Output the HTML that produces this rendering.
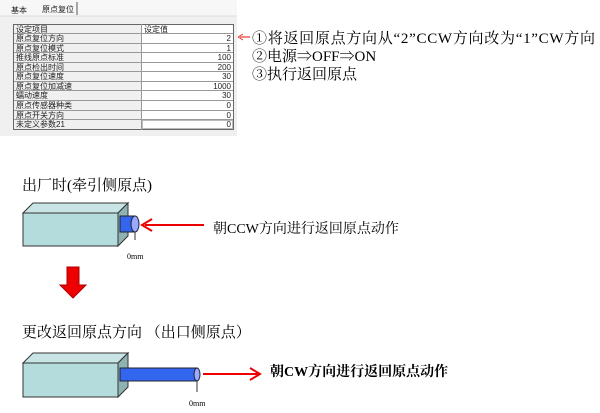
<!DOCTYPE html>
<html><head><meta charset="utf-8"><style>
body{margin:0;background:#fff;width:600px;height:408px;overflow:hidden}
svg text{font-family:"Liberation Serif","Noto Serif CJK SC",serif}
.t{font-family:"Liberation Sans","Noto Sans CJK SC",sans-serif;font-size:8px;fill:#222}
</style></head><body>
<svg width="600" height="408" xmlns="http://www.w3.org/2000/svg">
<rect x="0" y="0" width="237" height="136" fill="#f0f0f0"/>
<rect x="0" y="0" width="237" height="16" fill="#f7f7f7"/>
<text x="11" y="13" class="t" font-size="9">基本</text>
<text x="42" y="12" class="t" font-size="9">原点复位</text>
<line x1="77" y1="2" x2="77" y2="15" stroke="#555"/>
<line x1="0" y1="16" x2="237" y2="16" stroke="#ddd"/>
<rect x="13.5" y="24.5" width="220" height="105" fill="#fff" stroke="#666"/>
<rect x="14" y="25" width="127" height="104" fill="#f0f0f0"/>
<g stroke="#999" stroke-width="1">
<line x1="141.5" y1="24" x2="141.5" y2="130"/>
<line x1="14" y1="33.5" x2="233" y2="33.5"/>
<line x1="14" y1="43.5" x2="233" y2="43.5"/>
<line x1="14" y1="52.5" x2="233" y2="52.5"/>
<line x1="14" y1="62.5" x2="233" y2="62.5"/>
<line x1="14" y1="71.5" x2="233" y2="71.5"/>
<line x1="14" y1="81.5" x2="233" y2="81.5"/>
<line x1="14" y1="90.5" x2="233" y2="90.5"/>
<line x1="14" y1="100.5" x2="233" y2="100.5"/>
<line x1="14" y1="110.5" x2="233" y2="110.5"/>
<line x1="14" y1="119.5" x2="233" y2="119.5"/>
</g>
<rect x="142.5" y="120.5" width="90" height="8" fill="none" stroke="#777" stroke-dasharray="1,1"/>
<g class="t">
<text x="16" y="32" class="t">设定项目</text><text x="144" y="32" class="t">设定值</text>
<text x="16" y="41" class="t">原点复位方向</text>
<text x="16" y="51" class="t">原点复位模式</text>
<text x="16" y="60" class="t">推线原点标准</text>
<text x="16" y="70" class="t">原点检出时间</text>
<text x="16" y="79" class="t">原点复位速度</text>
<text x="16" y="89" class="t">原点复位加减速</text>
<text x="16" y="98" class="t">蠕动速度</text>
<text x="16" y="108" class="t">原点传感器种类</text>
<text x="16" y="118" class="t">原点开关方向</text>
<text x="16" y="127" class="t">未定义参数21</text>
</g>
<g class="t" text-anchor="end">
<text x="231" y="41" class="t">2</text><text x="231" y="51" class="t">1</text>
<text x="231" y="60" class="t">100</text><text x="231" y="70" class="t">200</text>
<text x="231" y="79" class="t">30</text><text x="231" y="89" class="t">1000</text>
<text x="231" y="98" class="t">30</text><text x="231" y="108" class="t">0</text>
<text x="231" y="118" class="t">0</text><text x="231" y="127" class="t">0</text>
</g>
<line x1="250" y1="37" x2="240" y2="37" stroke="#e33" stroke-width="1.2"/>
<path d="M238 37 L243 34 M238 37 L243 40" stroke="#e33" fill="none"/>
<g font-size="15" fill="#000">
<text x="252" y="43" textLength="343" lengthAdjust="spacing">①将返回原点方向从“2”CCW方向改为“1”CW方向</text>
<text x="252" y="61">②电源⇒OFF⇒ON</text>
<text x="252" y="79">③执行返回原点</text>
</g>
<text x="22" y="190" font-size="15" font-family="Liberation Sans,Noto Sans CJK SC,sans-serif">出厂时(牵引侧原点)</text>
<!-- box 1 -->
<polygon points="23,213 33,203 128,203 118,213" fill="#c8e4e4" stroke="#333"/>
<polygon points="118,213 128,203 128,236 118,246" fill="#8fb3b3" stroke="#333"/>
<rect x="23" y="213" width="95" height="33" fill="#b5dcdc" stroke="#333"/>
<rect x="120" y="216" width="15" height="16" fill="#3366ee" stroke="#223"/>
<ellipse cx="135" cy="224" rx="4" ry="8" fill="#99aaff" stroke="#223"/>
<line x1="135" y1="232" x2="135" y2="240" stroke="#333"/>
<text x="127" y="259" font-size="8" font-family="Liberation Sans,sans-serif">0mm</text>
<line x1="204" y1="225" x2="145" y2="225" stroke="#e00" stroke-width="2"/>
<path d="M152 219 L142 225 L152 231" stroke="#e00" stroke-width="2" fill="none"/>
<text x="213" y="233" font-size="14">朝CCW方向进行返回原点动作</text>
<!-- red arrow -->
<polygon points="67,267 79,267 79,285 86,285 73,298 60,285 67,285" fill="#e00" stroke="#a00"/>
<text x="22" y="337" font-size="15" font-family="Liberation Sans,Noto Sans CJK SC,sans-serif">更改返回原点方向 （出口侧原点）</text>
<!-- box 2 -->
<polygon points="23,363 33,353 128,353 118,363" fill="#c8e4e4" stroke="#333"/>
<polygon points="118,363 128,353 128,387 118,397" fill="#8fb3b3" stroke="#333"/>
<rect x="23" y="363" width="95" height="34" fill="#b5dcdc" stroke="#333"/>
<rect x="120" y="368" width="77" height="13" fill="#3366ee" stroke="#223"/>
<ellipse cx="197" cy="374.5" rx="3" ry="6.5" fill="#99aaff" stroke="#223"/>
<line x1="197" y1="381" x2="197" y2="392" stroke="#333"/>
<text x="189" y="406" font-size="8" font-family="Liberation Sans,sans-serif">0mm</text>
<line x1="203" y1="374" x2="258" y2="374" stroke="#e00" stroke-width="2"/>
<path d="M250 368 L260 374 L250 380" stroke="#e00" stroke-width="2" fill="none"/>
<text x="270" y="376" font-size="14" font-weight="bold" font-family="Liberation Sans,Noto Sans CJK SC,sans-serif">朝CW方向进行返回原点动作</text>
</svg>
</body></html>
